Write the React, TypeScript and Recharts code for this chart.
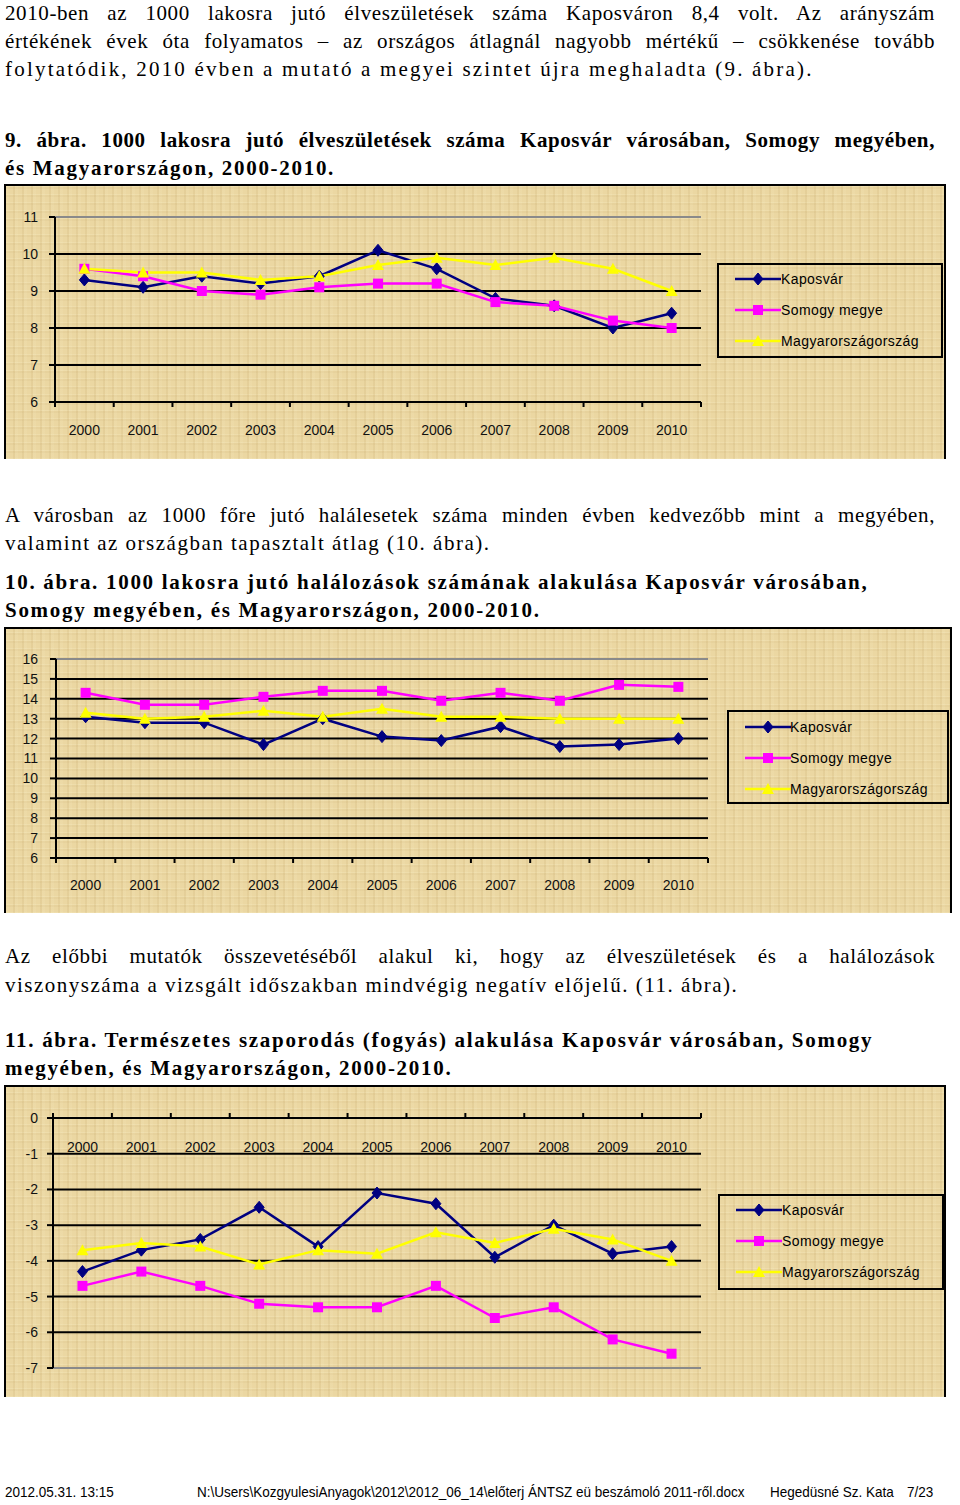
import React from 'react'
import { LineChart, Line, XAxis, YAxis, CartesianGrid, ReferenceLine } from 'recharts'

// categories + series
const years = ['2000', '2001', '2002', '2003', '2004', '2005', '2006', '2007', '2008', '2009', '2010']
const seriesNames = ['Kaposvár', 'Somogy megye', 'Magyarországország']
const seriesColors = ['#000080', '#ff00ff', '#ffff00']

// 9. ábra - élveszületések / 1000 lakos
const birthKaposvar = [9.3, 9.1, 9.4, 9.2, 9.4, 10.1, 9.6, 8.8, 8.6, 8.0, 8.4]
const birthSomogy = [9.6, 9.4, 9.0, 8.9, 9.1, 9.2, 9.2, 8.7, 8.6, 8.2, 8.0]
const birthHungary = [9.6, 9.5, 9.5, 9.3, 9.4, 9.7, 9.9, 9.7, 9.9, 9.6, 9.0]
const birthTicks = [6, 7, 8, 9, 10, 11]

// 10. ábra - halálozások / 1000 lakos
const deathKaposvar = [13.1, 12.8, 12.8, 11.7, 13.0, 12.1, 11.9, 12.6, 11.6, 11.7, 12.0]
const deathSomogy = [14.3, 13.7, 13.7, 14.1, 14.4, 14.4, 13.9, 14.3, 13.9, 14.7, 14.6]
const deathHungary = [13.3, 13.0, 13.1, 13.4, 13.1, 13.5, 13.1, 13.1, 13.0, 13.0, 13.0]
const deathTicks = [6, 7, 8, 9, 10, 11, 12, 13, 14, 15, 16]

// 11. ábra - természetes szaporodás (fogyás)
const natKaposvar = [-4.3, -3.7, -3.4, -2.5, -3.6, -2.1, -2.4, -3.9, -3.0, -3.8, -3.6]
const natSomogy = [-4.7, -4.3, -4.7, -5.2, -5.3, -5.3, -4.7, -5.6, -5.3, -6.2, -6.6]
const natHungary = [-3.7, -3.5, -3.6, -4.1, -3.7, -3.8, -3.2, -3.5, -3.1, -3.4, -4.0]
const natTicks = [-7, -6, -5, -4, -3, -2, -1, 0]

const build = (a: number[], b: number[], c: number[]) =>
  years.map((year, i) => ({ year, s0: a[i], s1: b[i], s2: c[i] }))

const serif = '"Liberation Serif", "Times New Roman", serif'
const sans = '"Liberation Sans", Arial, sans-serif'

const parchment: React.CSSProperties = {
  backgroundColor: '#ebd7a2',
  backgroundImage:
    'repeating-linear-gradient(90deg, rgba(170,135,70,0.10) 0 2px, rgba(255,250,220,0.08) 2px 5px, transparent 5px 9px),' +
    'repeating-linear-gradient(0deg, rgba(255,248,215,0.18) 0 1px, transparent 1px 6px, rgba(160,125,60,0.06) 6px 8px)',
}

// markers
const Diamond = ({ cx, cy, fill }: any) =>
  cx == null ? null : (
    <path d={`M${cx},${cy - 6} L${cx + 5},${cy} L${cx},${cy + 6} L${cx - 5},${cy} Z`} fill={fill} stroke={fill} />
  )
const Square = ({ cx, cy, fill }: any) =>
  cx == null ? null : <rect x={cx - 5} y={cy - 5} width={10} height={10} fill={fill} />
const Triangle = ({ cx, cy, fill }: any) =>
  cx == null ? null : <path d={`M${cx},${cy - 6} L${cx + 6},${cy + 5} L${cx - 6},${cy + 5} Z`} fill={fill} />
const markers = [Diamond, Square, Triangle]

// x ticks: label centred in the band, tick marks on band edges (Excel style)
const makeXTick = (band: number, labelOffset: number, up: boolean) => (props: any) => {
  const { x, y, payload, index } = props
  const d = up ? -5 : 5
  return (
    <g>
      <line x1={x - band / 2} x2={x - band / 2} y1={y} y2={y + d} stroke="#000" strokeWidth={2} />
      {index === years.length - 1 && (
        <line x1={x + band / 2} x2={x + band / 2} y1={y} y2={y + d} stroke="#000" strokeWidth={2} />
      )}
      <text x={x} y={y + labelOffset} textAnchor="middle" dominantBaseline="central" fontSize={14} fill="#111" fontFamily={sans}>
        {payload.value}
      </text>
    </g>
  )
}

function LegendMark({ i }: { i: number }) {
  const M = markers[i]
  return (
    <svg width={46} height={14} style={{ display: 'block' }}>
      <line x1={0} x2={46} y1={7} y2={7} stroke={seriesColors[i]} strokeWidth={2.5} />
      <M cx={23} cy={7} fill={seriesColors[i]} />
    </svg>
  )
}

interface ChartBoxProps {
  left: number
  top: number
  width: number
  height: number
  data: any[]
  ticks: number[]
  margin: { top: number; right: number; bottom: number; left: number }
  xHeight: number
  xOnTop?: boolean
  labelOffset: number
  tickMargin: number
  legend: { left: number; top: number; width: number; height: number; rows: number[]; markX: number; textX: number }
}

function ChartBox({ left, top, width, height, data, ticks, margin, xHeight, xOnTop, labelOffset, tickMargin, legend }: ChartBoxProps) {
  const domain: [number, number] = [ticks[0], ticks[ticks.length - 1]]
  const plotW = width - margin.left - 40 - margin.right
  const band = plotW / years.length
  return (
    <div style={{ position: 'absolute', left, top, width, height, ...parchment }}>
      <LineChart width={width} height={height} data={data} margin={margin}>
        <CartesianGrid vertical={false} stroke="#000" strokeWidth={2} />
        <ReferenceLine y={xOnTop ? domain[0] : domain[1]} stroke="#8a8a8a" strokeWidth={2} />
        <XAxis
          dataKey="year"
          orientation={xOnTop ? 'top' : 'bottom'}
          height={xHeight}
          interval={0}
          tickSize={0}
          tickMargin={0}
          tickLine={false}
          padding={{ left: band / 2, right: band / 2 }}
          axisLine={{ stroke: '#000', strokeWidth: 2 }}
          tick={makeXTick(band, labelOffset, !!xOnTop)}
        />
        <YAxis
          width={40}
          domain={domain}
          ticks={ticks}
          interval={0}
          allowDataOverflow
          tickSize={6}
          tickMargin={tickMargin}
          tickLine={{ stroke: '#000', strokeWidth: 2 }}
          axisLine={{ stroke: '#000', strokeWidth: 2 }}
          tick={{ fill: '#111', fontSize: 14, fontFamily: sans }}
        />
        <YAxis
          yAxisId="r"
          orientation="right"
          width={0}
          domain={domain}
          ticks={ticks}
          tick={false}
          tickLine={false}
          axisLine={{ stroke: '#8a8a8a', strokeWidth: 2 }}
        />
        {[0, 1, 2].map((i) => {
          const M = markers[i]
          return (
            <Line
              key={i}
              dataKey={`s${i}`}
              name={seriesNames[i]}
              stroke={seriesColors[i]}
              strokeWidth={2.5}
              dot={(p: any) => <M key={`${i}-${p.index}`} cx={p.cx} cy={p.cy} fill={seriesColors[i]} />}
              activeDot={false}
              isAnimationActive={false}
            />
          )
        })}
      </LineChart>
      <div
        style={{
          position: 'absolute',
          left: legend.left,
          top: legend.top,
          width: legend.width,
          height: legend.height,
          border: '2px solid #000',
          boxSizing: 'border-box',
        }}
      >
        {seriesNames.map((n, i) => (
          <div key={n} style={{ position: 'absolute', left: 0, top: legend.rows[i] - 2 - 9, height: 18, width: '100%' }}>
            <div style={{ position: 'absolute', left: legend.markX - 2, top: 2 }}>
              <LegendMark i={i} />
            </div>
            <div
              style={{
                position: 'absolute',
                left: legend.textX - 2,
                top: 0,
                lineHeight: '18px',
                fontSize: 14,
                fontFamily: sans,
                letterSpacing: 0.4,
                color: '#000',
                whiteSpace: 'nowrap',
              }}
            >
              {n}
            </div>
          </div>
        ))}
      </div>
      <div
        style={{
          position: 'absolute',
          inset: 0,
          borderTop: '2px solid #000',
          borderLeft: '2px solid #000',
          borderRight: '2px solid #000',
          pointerEvents: 'none',
        }}
      />
    </div>
  )
}

function TextLine({ y, text, bold, justify, spacing }: { y: number; text: string; bold?: boolean; justify?: boolean; spacing?: number }) {
  return (
    <div
      style={{
        position: 'absolute',
        left: 5,
        top: y - 14,
        width: 930,
        height: 28,
        lineHeight: '28px',
        fontSize: 21,
        fontFamily: serif,
        fontWeight: bold ? 700 : 400,
        letterSpacing: spacing ?? (justify ? 0.6 : bold ? 1.7 : 1.5),
        color: '#000',
        whiteSpace: 'nowrap',
        textAlign: justify ? 'justify' : 'left',
        textAlignLast: justify ? 'justify' : 'left',
      }}
    >
      {text}
    </div>
  )
}

export default function App() {
  const foot: React.CSSProperties = {
    position: 'absolute',
    top: 1483,
    fontSize: 15,
    lineHeight: '18px',
    fontFamily: sans,
    color: '#000',
    whiteSpace: 'nowrap',
    transform: 'scaleX(0.9)',
    transformOrigin: 'left center',
  }
  return (
    <div style={{ position: 'absolute', left: 0, top: 0, width: 960, height: 1505, background: '#fff', overflow: 'hidden' }}>
      <TextLine y={13} justify text="2010-ben az 1000 lakosra jutó élveszületések száma Kaposváron 8,4 volt. Az arányszám" />
      <TextLine y={41} justify text="értékének évek óta folyamatos – az országos átlagnál nagyobb mértékű – csökkenése tovább" />
      <TextLine y={69} spacing={2.2} text="folytatódik, 2010 évben a mutató a megyei szintet újra meghaladta (9. ábra)." />
      <TextLine y={140} bold justify text="9. ábra. 1000 lakosra jutó élveszületések száma Kaposvár városában, Somogy megyében," />
      <TextLine y={168} bold text="és Magyarországon, 2000-2010." />

      <ChartBox
        left={4}
        top={184}
        width={942}
        height={275}
        data={build(birthKaposvar, birthSomogy, birthHungary)}
        ticks={birthTicks}
        margin={{ top: 33, right: 245, bottom: 56, left: 11 }}
        xHeight={1}
        labelOffset={28}
        tickMargin={11}
        legend={{ left: 713, top: 79, width: 226, height: 95, rows: [16, 47, 78], markX: 18, textX: 64 }}
      />

      <TextLine y={515} justify text="A városban az 1000 főre jutó halálesetek száma minden évben kedvezőbb mint a megyében," />
      <TextLine y={543} text="valamint az országban tapasztalt átlag (10. ábra)." />
      <TextLine y={582} bold text="10. ábra. 1000 lakosra jutó halálozások számának alakulása Kaposvár városában," />
      <TextLine y={610} bold text="Somogy megyében, és Magyarországon, 2000-2010." />

      <ChartBox
        left={4}
        top={627}
        width={948}
        height={286}
        data={build(deathKaposvar, deathSomogy, deathHungary)}
        ticks={deathTicks}
        margin={{ top: 32, right: 244, bottom: 54, left: 12 }}
        xHeight={1}
        labelOffset={27}
        tickMargin={12}
        legend={{ left: 723, top: 83, width: 222, height: 94, rows: [17, 48, 79], markX: 18, textX: 63 }}
      />

      <TextLine y={956} justify text="Az előbbi mutatók összevetéséből alakul ki, hogy az élveszületések és a halálozások" />
      <TextLine y={985} text="viszonyszáma a vizsgált időszakban mindvégig negatív előjelű. (11. ábra)." />
      <TextLine y={1040} bold text="11. ábra. Természetes szaporodás (fogyás) alakulása Kaposvár városában, Somogy" />
      <TextLine y={1068} bold text="megyében, és Magyarországon, 2000-2010." />

      <ChartBox
        left={4}
        top={1085}
        width={942}
        height={312}
        data={build(natKaposvar, natSomogy, natHungary)}
        ticks={natTicks}
        margin={{ top: 32, right: 245, bottom: 29, left: 9 }}
        xHeight={1}
        xOnTop
        labelOffset={29}
        tickMargin={9}
        legend={{ left: 714, top: 109, width: 226, height: 96, rows: [16, 47, 78], markX: 18, textX: 64 }}
      />

      <div style={{ ...foot, left: 5 }}>2012.05.31. 13:15</div>
      <div style={{ ...foot, left: 197 }}>N:\Users\KozgyulesiAnyagok\2012\2012_06_14\előterj ÁNTSZ eü beszámoló 2011-ről.docx</div>
      <div style={{ ...foot, left: 770 }}>Hegedüsné Sz. Kata</div>
      <div style={{ ...foot, left: 907 }}>7/23</div>
    </div>
  )
}
